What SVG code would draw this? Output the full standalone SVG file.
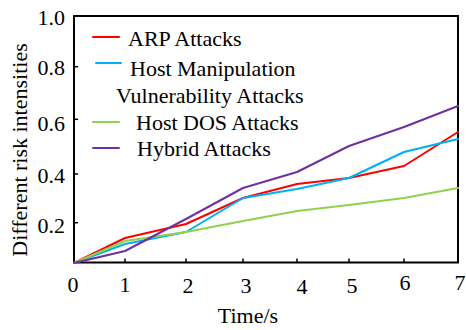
<svg xmlns="http://www.w3.org/2000/svg" width="466" height="330" viewBox="0 0 466 330">
  <style>
    text { font-size: 22px; fill: #000; }
    .tick-y { text-anchor: end; }
    .tick-x { text-anchor: middle; }
    .frame { fill: none; stroke: #000; stroke-width: 2; }
    .tick { stroke: #000; stroke-width: 1.5; }
    .series { fill: none; stroke-width: 2; stroke-linejoin: round; stroke-linecap: round; }
    .arp { stroke: #ff0000; }
    .host { stroke: #00b0f0; }
    .dos { stroke: #92d050; }
    .hybrid { stroke: #7030a0; }
  </style>

  <rect width="466" height="330" fill="#fff"/>

  <g font-family="Liberation Serif, DejaVu Serif, serif">
  <!-- axes frame -->
  <g id="axes">
    <rect class="frame" x="74" y="16" width="384" height="246.5"/>
    <!-- y ticks (inward) -->
    <line class="tick" x1="74" y1="66.7" x2="78" y2="66.7"/>
    <line class="tick" x1="74" y1="119.3" x2="78" y2="119.3"/>
    <line class="tick" x1="74" y1="174" x2="78" y2="174"/>
    <line class="tick" x1="74" y1="222.7" x2="78" y2="222.7"/>
    <!-- x ticks (inward) -->
    <line class="tick" x1="125" y1="262.5" x2="125" y2="258.5"/>
    <line class="tick" x1="186" y1="262.5" x2="186" y2="258.5"/>
    <line class="tick" x1="243" y1="262.5" x2="243" y2="258.5"/>
    <line class="tick" x1="297" y1="262.5" x2="297" y2="258.5"/>
    <line class="tick" x1="349" y1="262.5" x2="349" y2="258.5"/>
    <line class="tick" x1="404" y1="262.5" x2="404" y2="258.5"/>
  </g>

  <!-- tick labels -->
  <g id="y-labels">
    <text class="tick-y" x="65" y="25">1.0</text>
    <text class="tick-y" x="65" y="75">0.8</text>
    <text class="tick-y" x="65" y="131">0.6</text>
    <text class="tick-y" x="65" y="183">0.4</text>
    <text class="tick-y" x="65" y="233">0.2</text>
  </g>
  <g id="x-labels">
    <text class="tick-x" x="73" y="292">0</text>
    <text class="tick-x" x="125" y="292">1</text>
    <text class="tick-x" x="188" y="293">2</text>
    <text class="tick-x" x="246" y="293">3</text>
    <text class="tick-x" x="302" y="294">4</text>
    <text class="tick-x" x="352" y="293">5</text>
    <text class="tick-x" x="405" y="290">6</text>
    <text class="tick-x" x="460" y="290">7</text>
  </g>

  <!-- axis titles -->
  <text id="x-title" x="248" y="323" text-anchor="middle">Time/s</text>
  <text id="y-title" transform="translate(27,150) rotate(-90)" text-anchor="middle" font-size="23">Different risk intensities</text>

  <!-- data series -->
  <g id="series">
    <polyline class="series arp" points="74,263 125,238 186,224 243,198 297,184 349,178 404,166 458,132"/>
    <polyline class="series host" points="74,263 125,244 186,232 243,198 297,189 349,178 404,152 458,139"/>
    <polyline class="series dos" points="74,263 125,241 186,232 243,221 297,211 349,205 404,198 458,188"/>
    <polyline class="series hybrid" points="74,263 125,251 186,219 243,188 297,172 349,146 404,127 458,106"/>
  </g>

  <!-- legend -->
  <g id="legend">
    <g id="legend-arp">
      <line class="series arp" x1="93" y1="37" x2="119" y2="37"/>
      <text x="128" y="46">ARP Attacks</text>
    </g>
    <g id="legend-host">
      <line class="series host" x1="96" y1="63" x2="121" y2="63"/>
      <text x="130" y="76">Host Manipulation</text>
      <text x="116" y="103">Vulnerability Attacks</text>
    </g>
    <g id="legend-dos">
      <line class="series dos" x1="93" y1="122" x2="119" y2="122"/>
      <text x="136" y="130">Host DOS Attacks</text>
    </g>
    <g id="legend-hybrid">
      <line class="series hybrid" x1="93" y1="148" x2="119" y2="148"/>
      <text x="137" y="156">Hybrid Attacks</text>
    </g>
  </g>
  </g>
</svg>
